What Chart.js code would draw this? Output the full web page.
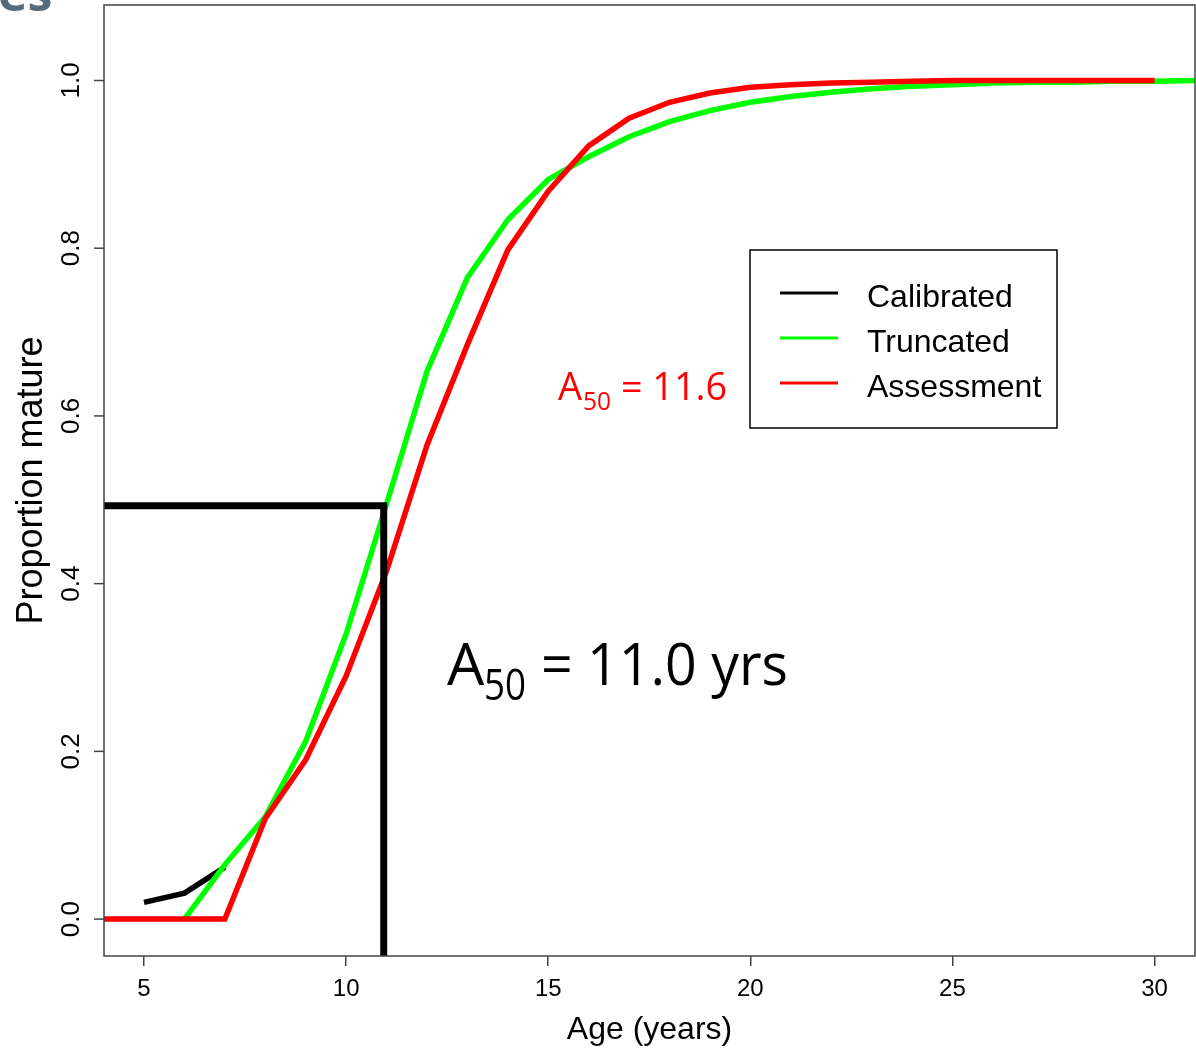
<!DOCTYPE html>
<html lang="en">
<head>
  <meta charset="UTF-8" />
  <title>Proportion mature by age</title>
  <script src="https://cdn.jsdelivr.net/npm/chart.js"></script>
  <style>
    html, body { margin: 0; padding: 0; background: #fff; overflow: hidden; }
    canvas { display: block; }
  </style>
</head>
<body>
  <canvas id="myChart" width="1196" height="1049"></canvas>

  <script>
    // tick values and labels
    const xTicks = [5, 10, 15, 20, 25, 30];
    const yTicks = [0, 0.2, 0.4, 0.6, 0.8, 1.0];
    const yTickLabels = ['0.0', '0.2', '0.4', '0.6', '0.8', '1.0'];

    // series
    const calibratedAges = [5, 6, 7];
    const calibrated = [0.020, 0.031, 0.062];

    const truncatedAges = [6, 7, 8, 9, 10, 11, 12, 13, 14, 15, 16, 17, 18, 19, 20,
      21, 22, 23, 24, 25, 26, 27, 28, 29, 30, 31];
    const truncated = [0.0, 0.065, 0.122, 0.212, 0.34, 0.495, 0.653, 0.765, 0.834, 0.882,
      0.909, 0.933, 0.951, 0.964, 0.974, 0.981, 0.986, 0.990, 0.993, 0.995,
      0.997, 0.998, 0.998, 0.999, 0.999, 1.0];

    const assessmentAges = [3, 4, 5, 6, 7, 8, 9, 10, 11, 12, 13, 14, 15, 16, 17, 18, 19,
      20, 21, 22, 23, 24, 25, 26, 27, 28, 29, 30];
    const assessment = [0, 0, 0, 0, 0, 0.12, 0.19, 0.29, 0.415, 0.565, 0.685, 0.798, 0.868,
      0.922, 0.955, 0.974, 0.985, 0.992, 0.995, 0.997, 0.998, 0.999, 1.0, 1.0,
      1.0, 1.0, 1.0, 1.0];

    // A50 guide (as drawn)
    const a50Age = 10.93;
    const a50Prop = 0.493;
    const guideAges = [3, a50Age, a50Age];
    const guideProps = [a50Prop, a50Prop, -0.1];

    const xMin = 4.01, xMax = 31.0;
    const yMin = -0.044, yMax = 1.09;

    const toPoints = (xs, ys) => xs.map((x, i) => ({ x: x, y: ys[i] }));

    const axisFont = '"Liberation Sans", Arial, sans-serif';
    const slideFont = '"Open Sans", "Noto Sans", sans-serif';

    // box, rotated y labels, legend and the A50 notes
    const extras = {
      id: 'extras',
      afterDraw(chart) {
        const c = chart.ctx;
        const a = chart.chartArea;
        const yScale = chart.scales.y;
        c.save();

        // plot frame
        c.strokeStyle = '#444';
        c.lineWidth = 1.5;
        c.strokeRect(a.left, a.top, a.right - a.left, a.bottom - a.top);

        // y tick marks and labels, rotated like R
        c.fillStyle = '#000';
        c.font = '26px ' + axisFont;
        c.textAlign = 'center';
        c.textBaseline = 'middle';
        yTicks.forEach((v, i) => {
          const py = yScale.getPixelForValue(v);
          c.beginPath();
          c.moveTo(a.left - 10, py);
          c.lineTo(a.left, py);
          c.stroke();
          c.save();
          c.translate(72, py);
          c.rotate(-Math.PI / 2);
          c.fillText(yTickLabels[i], 0, 0);
          c.restore();
        });

        // legend box
        const lg = { left: 750, top: 250, right: 1057, bottom: 428 };
        c.fillStyle = '#fff';
        c.fillRect(lg.left, lg.top, lg.right - lg.left, lg.bottom - lg.top);
        c.strokeStyle = '#000';
        c.lineWidth = 1.5;
        c.strokeRect(lg.left, lg.top, lg.right - lg.left, lg.bottom - lg.top);
        const legendItems = chart.data.datasets.filter(d => !d.isGuide);
        c.font = '32px ' + axisFont;
        c.textAlign = 'left';
        c.textBaseline = 'alphabetic';
        legendItems.forEach((d, i) => {
          const ly = 293 + i * 45;
          c.strokeStyle = d.borderColor;
          c.lineWidth = 3;
          c.beginPath();
          c.moveTo(780, ly);
          c.lineTo(838, ly);
          c.stroke();
          c.fillStyle = '#000';
          c.fillText(d.label, 867, ly + 14, 147 + (i === 2 ? 28 : 0));
        });

        // A50 notes
        c.fillStyle = '#ff0000';
        c.font = '38px ' + slideFont;
        c.fillText('A', 558, 400);
        c.font = '26px ' + slideFont;
        c.fillText('50', 583, 410, 28);
        c.font = '38px ' + slideFont;
        c.fillText('= 11.6', 621, 400, 106);

        c.fillStyle = '#000';
        c.font = '59px ' + slideFont;
        c.fillText('A', 447, 685);
        c.font = '44px ' + slideFont;
        c.fillText('50', 484, 700, 42);
        c.font = '59px ' + slideFont;
        c.fillText('= 11.0 yrs', 541, 685, 247);

        // slide title remnant at top-left
        c.fillStyle = '#566b7c';
        c.font = 'bold 50px ' + slideFont;
        c.fillText('es', -2, 11);

        c.restore();
      }
    };

    const ctx = document.getElementById('myChart').getContext('2d');
    const myChart = new Chart(ctx, {
      type: 'line',
      data: {
        datasets: [
          {
            label: 'Calibrated',
            data: toPoints(calibratedAges, calibrated),
            borderColor: '#000000',
            borderWidth: 5.5,
            order: 3
          },
          {
            label: 'Truncated',
            data: toPoints(truncatedAges, truncated),
            borderColor: '#00ff00',
            borderWidth: 5.5,
            order: 2
          },
          {
            label: 'Assessment',
            data: toPoints(assessmentAges, assessment),
            borderColor: '#ff0000',
            borderWidth: 5.5,
            order: 1
          },
          {
            label: 'A50',
            isGuide: true,
            data: toPoints(guideAges, guideProps),
            borderColor: '#000000',
            borderWidth: 7,
            borderJoinStyle: 'miter',
            order: 0
          }
        ]
      },
      options: {
        responsive: false,
        animation: false,
        devicePixelRatio: 1,
        layout: { padding: { top: 5, right: 1, left: 0, bottom: 0 } },
        elements: {
          point: { radius: 0, hoverRadius: 0 },
          line: { tension: 0, fill: false, borderCapStyle: 'butt' }
        },
        datasets: { line: { clip: 0 } },
        scales: {
          x: {
            type: 'linear',
            min: xMin,
            max: xMax,
            afterBuildTicks: s => { s.ticks = xTicks.map(v => ({ value: v })); },
            afterFit: s => { s.height = 93; },
            grid: { display: true, drawOnChartArea: false, drawTicks: true, tickLength: 10, color: '#444', lineWidth: 1.5 },
            border: { display: false },
            ticks: { color: '#000', font: { family: axisFont, size: 24 }, padding: 9, maxRotation: 0 },
            title: { display: true, text: 'Age (years)', color: '#000', font: { family: axisFont, size: 32 }, padding: { top: 0, bottom: 0 } }
          },
          y: {
            type: 'linear',
            min: yMin,
            max: yMax,
            afterBuildTicks: s => { s.ticks = yTicks.map(v => ({ value: v })); },
            afterFit: s => { s.width = 104; },
            grid: { display: false },
            border: { display: false },
            ticks: { display: false },
            title: { display: true, text: 'Proportion mature', color: '#000', font: { family: axisFont, size: 36 }, padding: { top: 10, bottom: 0 } }
          }
        },
        plugins: {
          legend: { display: false },
          tooltip: { enabled: false }
        }
      },
      plugins: [extras]
    });
  </script>
</body>
</html>
